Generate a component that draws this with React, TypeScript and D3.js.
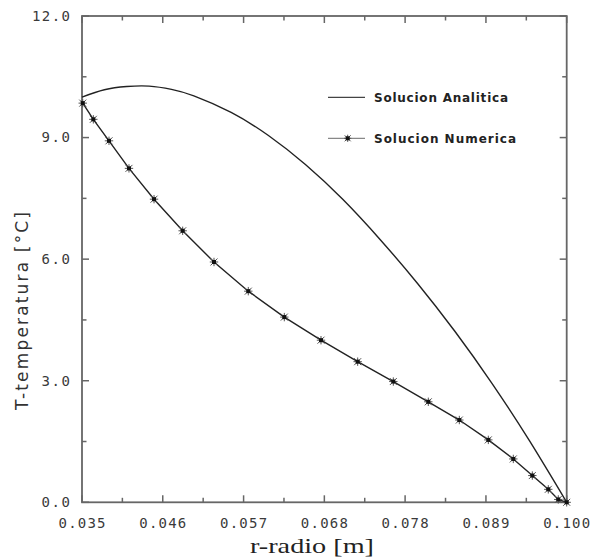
import React from 'react';
import * as d3 from 'd3';

const analyticR = [0.035, 0.038, 0.041, 0.044, 0.047, 0.05, 0.055, 0.06, 0.065, 0.07, 0.075, 0.08, 0.085, 0.09, 0.095, 0.1];
const analyticT = [10.0, 10.18, 10.26, 10.27, 10.19, 10.03, 9.62, 9.05, 8.33, 7.47, 6.48, 5.4, 4.22, 2.93, 1.52, 0.0];

const numericR = [0.0351, 0.03652, 0.03862, 0.0413, 0.04466, 0.0485, 0.0527, 0.0573, 0.06213, 0.06705, 0.07197, 0.07675, 0.08144, 0.0856, 0.08949, 0.09284, 0.09539, 0.09753, 0.09887, 0.1];
const numericT = [9.85, 9.45, 8.92, 8.24, 7.48, 6.7, 5.93, 5.21, 4.57, 4.0, 3.47, 2.98, 2.48, 2.03, 1.54, 1.07, 0.66, 0.32, 0.07, 0.0];

const xTickValues = [0.035, 0.04583, 0.05667, 0.0675, 0.07833, 0.08917, 0.1];
const xTickLabels = ['0.035', '0.046', '0.057', '0.068', '0.078', '0.089', '0.100'];
const yTickValues = [0, 3, 6, 9, 12];
const yTickLabels = ['0.0', '3.0', '6.0', '9.0', '12.0'];
const legendLabels = ['Solucion Analitica', 'Solucion Numerica'];
const xTitle = 'r-radio [m]';
const yTitle = 'T-temperatura [°C]';

function Star({ cx, cy, s }: { cx: number; cy: number; s: number }) {
  const d = `M${cx - s},${cy - s}L${cx + s},${cy + s}M${cx - s},${cy + s}L${cx + s},${cy - s}M${cx},${cy - s * 1.2}L${cx},${cy + s * 1.2}M${cx - s * 1.2},${cy}L${cx + s * 1.2},${cy}`;
  return (
    <g>
      <path d={d} stroke="#555" strokeWidth={1} fill="none" />
      <rect x={cx - 2} y={cy - 2} width={4} height={4} fill="#111" />
    </g>
  );
}

export default function App() {
  const W = 592, H = 557;
  const left = 82, right = 566.7, top = 16, bottom = 502.3;
  const x = d3.scaleLinear().domain([0.035, 0.1]).range([left, right]);
  const y = d3.scaleLinear().domain([0, 12]).range([bottom, top]);

  const xMinor = d3.range(6).map(i => (xTickValues[i] + xTickValues[i + 1]) / 2);
  const yMinor = d3.range(4).map(i => (yTickValues[i] + yTickValues[i + 1]) / 2);

  const aLine = d3.line<number>().x((_, i) => x(analyticR[i])).y(d => y(d)).curve(d3.curveNatural);
  const nLine = d3.line<number>().x((_, i) => x(numericR[i])).y(d => y(d));

  const axisColor = '#666';
  const major = 7, minor = 4.5;

  const tickFont = "'DejaVu Sans Mono', monospace";

  return (
    <svg width={W} height={H} style={{ position: 'absolute', left: 0, top: 0, background: '#fff' }}>
      <rect x={0} y={0} width={W} height={H} fill="#fff" />
      <rect x={left} y={top} width={right - left} height={bottom - top} fill="none" stroke={axisColor} strokeWidth={1.8} />
      {xTickValues.map((v, i) => (
        <g key={'xt' + i}>
          <line x1={x(v)} x2={x(v)} y1={bottom} y2={bottom - major} stroke={axisColor} strokeWidth={1.5} />
          <line x1={x(v)} x2={x(v)} y1={top} y2={top + major} stroke={axisColor} strokeWidth={1.5} />
          <text x={x(v)} y={523} dy="0.35em" textAnchor="middle" fontFamily={tickFont} fontSize={14} fill="#3a3a3a" textLength={47} lengthAdjust="spacing">{xTickLabels[i]}</text>
        </g>
      ))}
      {xMinor.map((v, i) => (
        <g key={'xm' + i}>
          <line x1={x(v)} x2={x(v)} y1={bottom} y2={bottom - minor} stroke={axisColor} strokeWidth={1.5} />
          <line x1={x(v)} x2={x(v)} y1={top} y2={top + minor} stroke={axisColor} strokeWidth={1.5} />
        </g>
      ))}
      {yTickValues.map((v, i) => (
        <g key={'yt' + i}>
          <line x1={left} x2={left + major} y1={y(v)} y2={y(v)} stroke={axisColor} strokeWidth={1.5} />
          <line x1={right} x2={right - major} y1={y(v)} y2={y(v)} stroke={axisColor} strokeWidth={1.5} />
          <text x={70} y={y(v)} dy="0.35em" textAnchor="end" fontFamily={tickFont} fontSize={14} fill="#3a3a3a" textLength={yTickLabels[i].length * 9.5} lengthAdjust="spacing">{yTickLabels[i]}</text>
        </g>
      ))}
      {yMinor.map((v, i) => (
        <g key={'ym' + i}>
          <line x1={left} x2={left + minor} y1={y(v)} y2={y(v)} stroke={axisColor} strokeWidth={1.5} />
          <line x1={right} x2={right - minor} y1={y(v)} y2={y(v)} stroke={axisColor} strokeWidth={1.5} />
        </g>
      ))}
      <path d={aLine(analyticT) || ''} fill="none" stroke="#222" strokeWidth={1.4} />
      <path d={nLine(numericT) || ''} fill="none" stroke="#222" strokeWidth={1.4} />
      {numericT.map((t, i) => (
        <Star key={'m' + i} cx={x(numericR[i])} cy={y(t)} s={3.5} />
      ))}
      <line x1={328} x2={365} y1={97.3} y2={97.3} stroke="#444" strokeWidth={1.3} />
      <text x={374} y={98} dy="0.35em" fontFamily="'DejaVu Sans', sans-serif" fontWeight="bold" fontSize={12} fill="#222" textLength={134} lengthAdjust="spacing">{legendLabels[0]}</text>
      <line x1={328} x2={365} y1={138.3} y2={138.3} stroke="#888" strokeWidth={1.3} />
      <Star cx={347.7} cy={138.3} s={3} />
      <text x={374} y={139} dy="0.35em" fontFamily="'DejaVu Sans', sans-serif" fontWeight="bold" fontSize={12} fill="#222" textLength={142} lengthAdjust="spacing">{legendLabels[1]}</text>
      <text x={312} y={546} dy="0.35em" textAnchor="middle" fontFamily="'Liberation Serif', 'DejaVu Serif', serif" fontSize={21} fill="#222" textLength={124} lengthAdjust="spacingAndGlyphs">{xTitle}</text>
      <text transform={`translate(22,311) rotate(-90)`} dy="0.35em" textAnchor="middle" fontFamily="'DejaVu Sans', sans-serif" fontSize={17} fill="#333" textLength={198} lengthAdjust="spacing">{yTitle}</text>
    </svg>
  );
}
